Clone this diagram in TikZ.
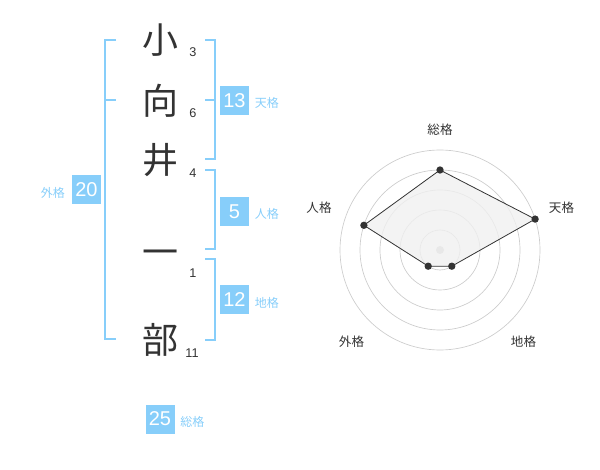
\documentclass[tikz,border=0pt]{standalone}
\usepackage{fontspec}
\usetikzlibrary{positioning}
\setmainfont{Liberation Sans}
\newfontfamily\jpfont{Noto Sans CJK JP}
\definecolor{kaku}{HTML}{87CEFA}
\definecolor{ink}{HTML}{333333}
\definecolor{ring}{HTML}{CCCCCC}
\definecolor{area}{HTML}{F0F0F0}
\tikzset{
  moji/.style={font=\jpfont\fontsize{27}{27}\selectfont, text=ink, inner sep=0pt},
  kakusu/.style={font=\fontsize{9.5}{10}\selectfont, text=ink, inner sep=0pt},
  numbox/.style={fill=kaku, text=white, minimum size=21.75pt, inner sep=0pt, font=\fontsize{15}{15}\selectfont},
  kakuname/.style={font=\jpfont\fontsize{9}{9}\selectfont, text=kaku, inner sep=0pt, yshift=-2pt},
  axisname/.style={font=\jpfont\fontsize{9.4}{9.4}\selectfont, text=ink, inner sep=0pt},
  bracket/.style={draw=kaku, line width=1.5pt},
  dot/.style={circle, fill=ink, inner sep=0pt, minimum size=5.5pt}
}
\begin{document}
\begin{tikzpicture}[x=0.75pt,y=-0.75pt]
\useasboundingbox (0,0) rectangle (600,470);

% name
\node[moji] (c1) at (160,40) {小};
\node[moji] (c2) at (160,101) {向};
\node[moji] (c3) at (160,160) {井};
\node[moji] (c4) at (160,258) {一};
\node[moji] (c5) at (160,340) {部};

\node[kakusu] (s1) at (193,52) {3};
\node[kakusu] (s2) at (193,113) {6};
\node[kakusu] (s3) at (193,173) {4};
\node[kakusu] (s4) at (193,273) {1};
\node[kakusu] (s5) at (192,353) {11};

% brackets
\path[bracket] (116,40) -- (105,40) -- (105,339.5) -- (116,339.5);
\path[bracket] (105,100) -- (116,100);
\path[bracket] (205,40) -- (215,40) -- (215,159.5) -- (205,159.5);
\path[bracket] (205,100) -- (215,100);
\path[bracket] (205,170) -- (215,170) -- (215,249.5) -- (205,249.5);
\path[bracket] (205,259.5) -- (215,259.5) -- (215,340) -- (205,340);

\node[numbox] (ten) at (234.5,100.5) {13};
\node[kakuname, right=4pt of ten] {天格};
\node[numbox] (jin) at (234.5,211.5) {5};
\node[kakuname, right=4pt of jin] {人格};
\node[numbox] (chi) at (234.5,300) {12};
\node[kakuname, right=4pt of chi] {地格};
\node[numbox] (gai) at (86.5,190) {20};
\node[kakuname, left=5pt of gai] {外格};
\node[numbox] (sou) at (160,419) {25};
\node[kakuname, right=4pt of sou] {総格};

% radar
\coordinate (o) at (440,250);
\foreach \r in {15,30,45,60,75}
  \draw[ring, line width=0.5pt] (o) circle[radius=\r pt];
\fill[ring] (o) circle[radius=3pt];
\coordinate (psou) at (440,170);
\coordinate (pten) at (535.1,219.1);
\coordinate (pchi) at (451.8,266.2);
\coordinate (pgai) at (428.2,266.2);
\coordinate (pjin) at (363.9,225.3);
\path[draw=ink, fill=area, fill opacity=0.8, line width=0.6pt]
  (psou) -- (pten) -- (pchi) -- (pgai) -- (pjin) -- cycle;
\foreach \p in {psou,pten,pchi,pgai,pjin}
  \node[dot] at (\p) {};

\node[axisname] (asou) at (440,130) {総格};
\node[axisname] (aten) at (561.5,208) {天格};
\node[axisname] (ajin) at (319,208) {人格};
\node[axisname] (agai) at (351.5,341.5) {外格};
\node[axisname] (achi) at (523.5,341.5) {地格};
\end{tikzpicture}
\end{document}
